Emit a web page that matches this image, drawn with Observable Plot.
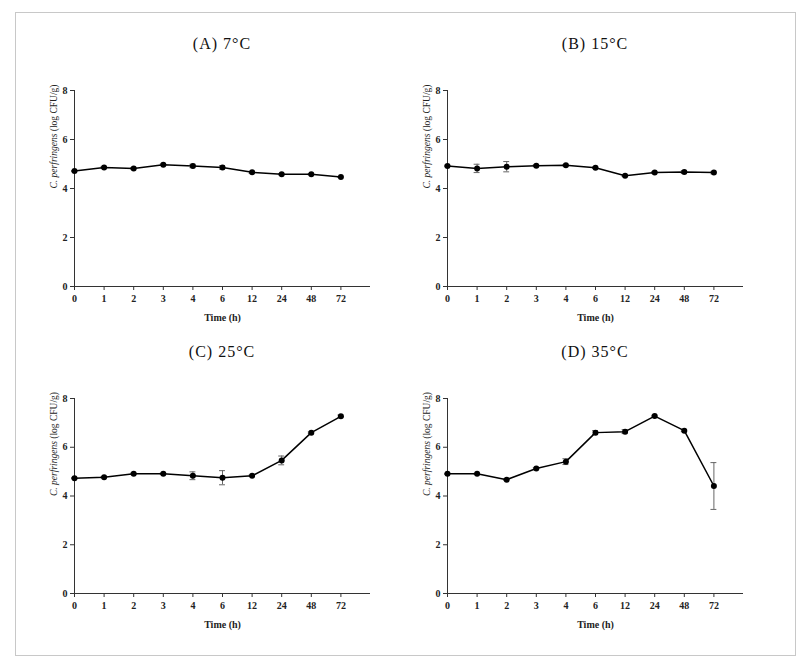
<!DOCTYPE html>
<html><head><meta charset="utf-8">
<script src="https://cdn.jsdelivr.net/npm/d3@7"></script>
<script src="https://cdn.jsdelivr.net/npm/@observablehq/plot@0.6"></script>
<style>
body{margin:0;background:#fff;width:810px;height:663px;position:relative;overflow:hidden;font-family:"Liberation Serif",serif}
#frame{position:absolute;left:15px;top:12px;width:781px;height:644px;border:1px solid #c8c8c8;box-sizing:border-box}
.title{position:absolute;font-size:16px;letter-spacing:1px;transform:translateX(-50%);white-space:nowrap;color:#111;font-family:"Liberation Serif",serif;line-height:18px}
.panel{position:absolute}
.panel svg, .panel svg text{font-family:"Liberation Serif","DejaVu Serif",serif !important}
</style></head><body>
<div id="frame"></div>
<div id="root"></div>
<script>
const times = ["0","1","2","3","4","6","12","24","48","72"];
const titles = ["(A)  7°C","(B)  15°C","(C)  25°C","(D)  35°C"];
const yTicks = [0,2,4,6,8];
const yLabel = "C. perfringens (log CFU/g)";
const xLabel = "Time (h)";

const meanA = [4.71,4.86,4.82,4.97,4.92,4.86,4.66,4.58,4.58,4.47];
const errA  = [0.02,0.04,0.03,0.03,0.07,0.07,0.04,0.03,0.03,0.02];
const meanB = [4.92,4.82,4.89,4.93,4.95,4.85,4.52,4.65,4.67,4.65];
const errB  = [0.03,0.17,0.21,0.04,0.03,0.03,0.03,0.04,0.06,0.05];
const meanC = [4.73,4.77,4.91,4.91,4.83,4.75,4.83,5.46,6.60,7.27];
const errC  = [0.02,0.03,0.03,0.03,0.16,0.29,0.03,0.18,0.03,0.05];
const meanD = [4.91,4.91,4.67,5.13,5.41,6.60,6.64,7.28,6.68,4.41];
const errD  = [0.02,0.02,0.03,0.03,0.12,0.08,0.08,0.03,0.04,0.96];

const panels = [
  {mean:meanA, err:errA, title:titles[0], left:14, top:80, h:196, tx:222, ty:35},
  {mean:meanB, err:errB, title:titles[1], left:387, top:80, h:196, tx:595, ty:35},
  {mean:meanC, err:errC, title:titles[2], left:14, top:388, h:195, tx:222, ty:343},
  {mean:meanD, err:errD, title:titles[3], left:387, top:388, h:195, tx:595, ty:343}
];

const root = document.getElementById("root");
for (const p of panels) {
  const data = p.mean.map((v,i)=>({i, v, lo:v-p.err[i], hi:v+p.err[i]}));
  const mL=60, mR=10, mT=10, mB=45;
  const chart = Plot.plot({
    width: mL+296+mR, height: mT+p.h+mB,
    marginLeft:mL, marginRight:mR, marginTop:mT, marginBottom:mB,
    style:{fontFamily:'"Liberation Serif", serif', fontSize:"10px", color:"#222", background:"transparent", overflow:"visible"},
    x:{domain:[0,10]},
    y:{domain:[0,8]},
    marks:[
      Plot.axisY({ticks:yTicks, tickSize:4, tickPadding:3, label:null, fontWeight:"bold", stroke:"#333"}),
      Plot.axisX({ticks:d3.range(times.length), tickFormat:i=>times[i], tickSize:4, tickPadding:4, fontWeight:"bold", stroke:"#333",
        label:xLabel, labelAnchor:"center", labelArrow:"none", labelOffset:34}),
      Plot.ruleX([0], {y1:0, y2:8, stroke:"#333"}),
      Plot.ruleY([0], {x1:0, x2:10, stroke:"#333"}),
      Plot.text([yLabel], {frameAnchor:"left", dx:-21, rotate:-90, fontSize:9.5, fill:"#222"}),
      Plot.ruleX(data, {x:"i", y1:"lo", y2:"hi", stroke:"#666", strokeWidth:1}),
      Plot.ruleY(data, {y:"lo", x1:d=>d.i-0.1, x2:d=>d.i+0.1, stroke:"#666"}),
      Plot.ruleY(data, {y:"hi", x1:d=>d.i-0.1, x2:d=>d.i+0.1, stroke:"#666"}),
      Plot.line(data, {x:"i", y:"v", stroke:"#000", strokeWidth:1.5}),
      Plot.dot(data, {x:"i", y:"v", r:3, fill:"#000", stroke:"none"})
    ]
  });
  d3.select(chart).selectAll("text").each(function(){
    const t = this.textContent;
    if (t === xLabel) d3.select(this).attr("font-weight","bold");
    if (t === yLabel) {
      const s = d3.select(this); s.text(null);
      s.append("tspan").attr("font-style","italic").text("C. perfringens");
      s.append("tspan").text(" (log CFU/g)");
    }
  });
  const wrap = document.createElement("div");
  wrap.className = "panel";
  wrap.style.left = p.left+"px"; wrap.style.top = p.top+"px";
  wrap.appendChild(chart);
  root.appendChild(wrap);
  const t = document.createElement("div");
  t.className = "title"; t.textContent = p.title;
  t.style.left = p.tx+"px"; t.style.top = p.ty+"px";
  root.appendChild(t);
}
</script>
</body></html>
